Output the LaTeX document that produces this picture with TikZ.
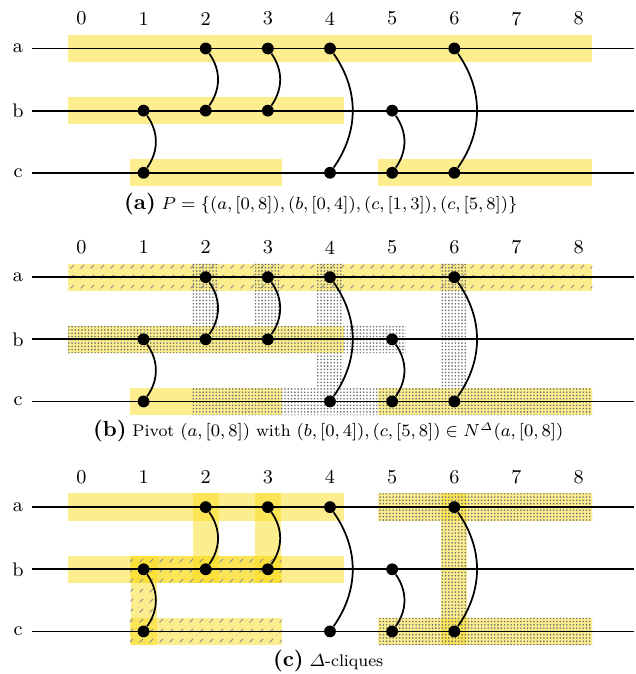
\documentclass[tikz,border=0pt]{standalone}
\usepackage{amsmath,amssymb}
\usetikzlibrary{patterns,patterns.meta,positioning}

\definecolor{bandyellow}{RGB}{250,220,30}

% gạch chéo ngắn
\pgfdeclarepatternformonly{shorthatch}{\pgfqpoint{0pt}{0pt}}{\pgfqpoint{4.5pt}{4.5pt}}{\pgfqpoint{4.5pt}{4.5pt}}{%
  \pgfsetlinewidth{0.4pt}%
  \pgfpathmoveto{\pgfqpoint{1.2pt}{1.2pt}}%
  \pgfpathlineto{\pgfqpoint{2.8pt}{2.8pt}}%
  \pgfusepath{stroke}}

\tikzset{
  band/.style={fill=bandyellow, fill opacity=0.5},
  hatchfill/.style={pattern=shorthatch, pattern color=gray!90},
  dotfill/.style={pattern={Dots[distance=1.5pt,radius=0.42pt]}, pattern color=black!55},
  rowline/.style={line width=0.8pt},
  vertex/.style={circle, fill=black, inner sep=0pt, minimum size=1.9mm},
  link/.style={line width=0.8pt, bend left=35},
  lbl/.style={font=\small},
  subcap/.style={font=\fontsize{7.7}{9}\selectfont},
}

\begin{document}
\begin{tikzpicture}
    \useasboundingbox (-1.31,0) rectangle (8.923,-10.845);
    % Dải vàng hình (a) và (b)
    \foreach \y in {-0.78,-4.46} {
        \foreach \r/\s/\e in {0/0/8, 1/0/4, 2/1/3, 2/5/8}
            \fill[band] (\s-0.22, \y-\r+0.22) rectangle (\e+0.22, \y-\r-0.22);
    }
    % Hình (b): pivot và lân cận
    \fill[hatchfill] (-0.22,-4.24) rectangle (8.22,-4.68);
    \fill[dotfill] (-0.22,-5.24) rectangle (5.22,-5.68)
                   (1.78,-6.24) rectangle (8.22,-6.68)
                   (1.79,-4.24) rectangle (2.21,-5.46)
                   (2.79,-4.24) rectangle (3.21,-5.46)
                   (3.79,-4.24) rectangle (4.21,-6.46)
                   (5.79,-4.24) rectangle (6.21,-6.46);
    % Hình (c): các clique
    \foreach \xa/\ya/\xb/\yb in {-0.22/-7.94/4.22/-8.38, -0.22/-8.94/4.22/-9.38,
                                 1.79/-7.94/2.21/-9.38, 2.79/-7.94/3.21/-9.38,
                                 0.78/-8.94/3.22/-9.38, 0.79/-8.94/1.21/-10.38,
                                 0.78/-9.94/3.22/-10.38,
                                 4.78/-7.94/8.22/-8.38, 5.79/-7.94/6.21/-10.38,
                                 4.78/-9.94/8.22/-10.38}
        \fill[band] (\xa,\ya) rectangle (\xb,\yb);
    \fill[hatchfill] (0.78,-8.94) rectangle (3.22,-9.38)
                     (0.79,-8.94) rectangle (1.21,-10.38)
                     (0.78,-9.94) rectangle (3.22,-10.38);
    \fill[dotfill] (4.78,-7.94) rectangle (8.22,-8.38)
                   (5.79,-7.94) rectangle (6.21,-10.38)
                   (4.78,-9.94) rectangle (8.22,-10.38);
    % Hàng, điểm và cung
    \foreach \p/\y in {1/-0.78, 2/-4.46, 3/-8.16} {
        \foreach \k in {0,...,8}
            \node[lbl] (col\k-\p) at (\k, \y+0.48) {\k};
        \foreach \r/\o in {a/0, b/1, c/2} {
            \node[lbl] (row\r-\p) at (-1.02, \y-\o) {\r};
            \draw[rowline] (-0.79, \y-\o) -- (8.89, \y-\o);
        }
        \foreach \r/\k/\o in {a/2/0, a/3/0, a/4/0, a/6/0, b/1/1, b/2/1, b/3/1, b/5/1,
                              c/1/2, c/4/2, c/5/2, c/6/2}
            \node[vertex] (\r\k-\p) at (\k, \y-\o) {};
        \foreach \s/\t in {a2/b2, a3/b3, b1/c1, a4/c4, a6/c6, b5/c5}
            \draw[link] (\s-\p) to (\t-\p);
    }
    % Chú thích
    \node[subcap] (capa) at (3.85,-3.29) {\textbf{\normalsize (a)} $P=\{(a,[0,8]),(b,[0,4]),(c,[1,3]),(c,[5,8])\}$};
    \node[subcap] (capb) at (3.97,-6.94) {\textbf{\normalsize (b)} Pivot $(a,[0,8])$ with $(b,[0,4]),(c,[5,8])\in N^{\varDelta}(a,[0,8])$};
    \node[subcap] (capc) at (3.97,-10.63) {\textbf{\normalsize (c)} $\varDelta$-cliques};
\end{tikzpicture}
\end{document}
